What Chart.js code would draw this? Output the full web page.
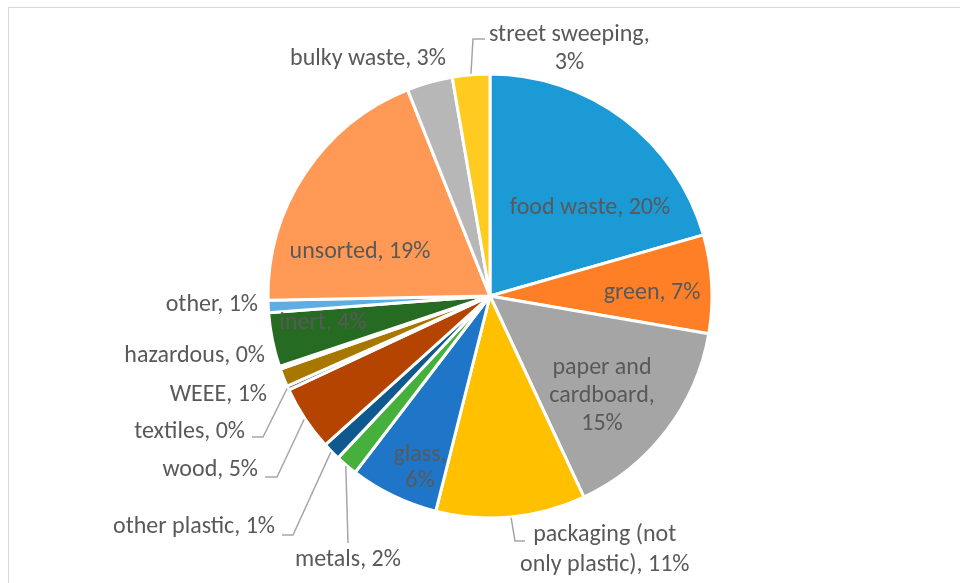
<!DOCTYPE html>
<html>
<head>
<meta charset="utf-8">
<script src="https://cdn.jsdelivr.net/npm/chart.js@4"></script>
<style>
  html, body { margin: 0; padding: 0; background: #fff; overflow: hidden; }
  #frame { position: absolute; left: 8px; top: 7px; width: 1100px; height: 700px; border: 1px solid #d9d9d9; }
  #wrap { position: absolute; left: 0; top: 0; width: 960px; height: 583px; }
</style>
</head>
<body>
<div id="frame"></div>
<div id="wrap"><canvas id="wasteChart"></canvas></div>
<script>
// waste composition, slices clockwise from 12 o'clock
const categories = [
  'food waste', 'green', 'paper and cardboard', 'packaging (not only plastic)',
  'glass', 'metals', 'other plastic', 'wood', 'textiles', 'WEEE',
  'hazardous', 'inert', 'other', 'unsorted', 'bulky waste', 'street sweeping'
];
const shares = [20.4, 7.1, 15.2, 10.8, 6.4, 1.6, 1.3, 4.7, 0.3, 1.3, 0.2, 3.9, 0.9, 19.1, 3.3, 2.7];
const sliceColors = [
  '#1b9ad6', '#ff7f27', '#a5a5a5', '#ffc000', '#1f75c8', '#46b03d', '#10598f', '#b54400',
  '#6e6e6e', '#a87700', '#2f5fa0', '#256b21', '#5eaee3', '#ff9955', '#b7b7b7', '#ffcb20'
];

// label layout, offsets in px from the pie centre
const labelLayout = [
  { lines: ['food waste, 20%'], x: 100, y: -88, align: 'center' },
  { lines: ['green, 7%'], x: 162, y: -3, align: 'center' },
  { lines: ['paper and', 'cardboard,', '15%'], x: 112, y: 100, align: 'center', lh: 28 },
  { lines: ['packaging (not', 'only plastic), 11%'], x: 30, y: 254, align: 'left', lh: 30,
    leader: [[25, 245], [35, 245]] },
  { lines: ['glass,', '6%'], x: -70, y: 172, align: 'center', lh: 26 },
  { lines: ['metals, 2%'], x: -142, y: 264, align: 'center', leader: [[-142, 247]] },
  { lines: ['other plastic, 1%'], x: -215, y: 231, align: 'right',
    leader: [[-197, 239], [-208, 239]] },
  { lines: ['wood, 5%'], x: -232, y: 174, align: 'right',
    leader: [[-213, 181], [-225, 181]] },
  { lines: ['textiles, 0%'], x: -245, y: 136, align: 'right',
    leader: [[-227, 141], [-238, 141]] },
  { lines: ['WEEE, 1%'], x: -223, y: 99, align: 'right' },
  { lines: ['hazardous, 0%'], x: -225, y: 60, align: 'right' },
  { lines: ['inert, 4%'], x: -167, y: 27, align: 'center' },
  { lines: ['other, 1%'], x: -232, y: 9, align: 'right' },
  { lines: ['unsorted, 19%'], x: -130, y: -44, align: 'center' },
  { lines: ['bulky waste, 3%'], x: -122, y: -237, align: 'center' },
  { lines: ['street sweeping,', '3%'], x: -1, y: -247, align: 'left', lh: 28,
    leader: [[-17, -257], [-5, -257]] }
];

const FONT = '24px Carlito, Calibri, "Open Sans", sans-serif';

const pieLabels = {
  id: 'pieLabels',
  afterDatasetsDraw(chart) {
    const ctx = chart.ctx;
    const arcs = chart.getDatasetMeta(0).data;
    ctx.save();
    ctx.font = FONT;
    ctx.textBaseline = 'middle';
    labelLayout.forEach((lab, i) => {
      const arc = arcs[i];
      const cx = arc.x, cy = arc.y;
      if (lab.leader) {
        const mid = (arc.startAngle + arc.endAngle) / 2;
        const r = arc.outerRadius + 1;
        ctx.beginPath();
        ctx.strokeStyle = '#a6a6a6';
        ctx.lineWidth = 1.5;
        ctx.moveTo(cx + Math.cos(mid) * r, cy + Math.sin(mid) * r);
        lab.leader.forEach(p => ctx.lineTo(cx + p[0], cy + p[1]));
        ctx.stroke();
      }
      const lh = lab.lh || 26;
      const widths = lab.lines.map(t => ctx.measureText(t).width);
      const blockW = Math.max(...widths);
      let blockCx;
      if (lab.align === 'left') blockCx = cx + lab.x + blockW / 2;
      else if (lab.align === 'right') blockCx = cx + lab.x - blockW / 2;
      else blockCx = cx + lab.x;
      const top = cy + lab.y - (lab.lines.length - 1) * lh / 2;
      ctx.fillStyle = '#595959';
      ctx.textAlign = 'center';
      lab.lines.forEach((t, k) => ctx.fillText(t, blockCx, top + k * lh));
    });
    ctx.restore();
  }
};

const ctx = document.getElementById('wasteChart').getContext('2d');
const wasteChart = new Chart(ctx, {
  type: 'pie',
  data: {
    labels: categories,
    datasets: [{
      data: shares,
      backgroundColor: sliceColors,
      borderColor: '#ffffff',
      borderWidth: 3
    }]
  },
  options: {
    responsive: true,
    maintainAspectRatio: false,
    animation: false,
    radius: 222,
    layout: { padding: { top: 75, bottom: 66, left: 20, right: 0 } },
    plugins: {
      legend: { display: false },
      tooltip: { enabled: false }
    }
  },
  plugins: [pieLabels]
});
</script>
</body>
</html>
